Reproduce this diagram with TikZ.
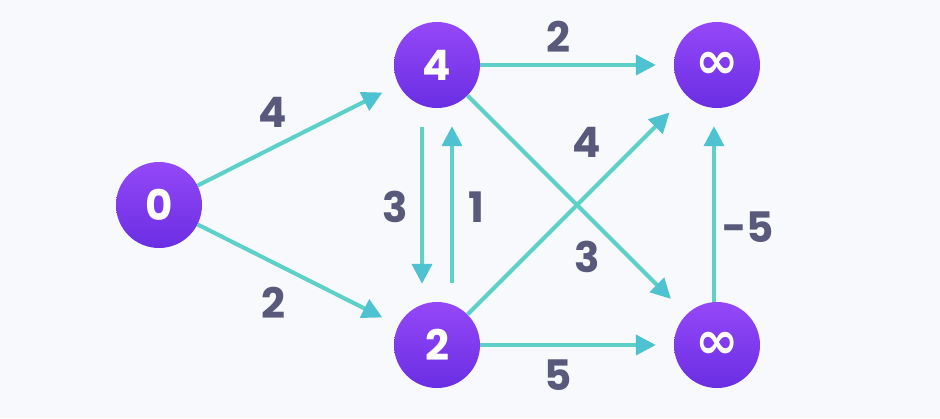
\documentclass[tikz,border=0pt]{standalone}
\usepackage{fontspec}
\setmainfont{Poppins}
\newfontfamily\symfont{DejaVu Sans}
\usepackage{tikz}
\usetikzlibrary{positioning,arrows.meta,calc}

\definecolor{bgc}{HTML}{F7F9FC}
\definecolor{edgec}{HTML}{5DD0C8}
\definecolor{tipc}{HTML}{4FC2D2}
\definecolor{vtop}{HTML}{9448F8}
\definecolor{vbot}{HTML}{6A2EE2}
\definecolor{wc}{HTML}{59597C}

\begin{document}
\begin{tikzpicture}[
    x=1pt, y=-1pt,
    vertex/.style ={circle, minimum size=86pt, inner sep=0pt, top color=vtop, bottom color=vbot,
                    text=white, font=\fontsize{42}{46}\selectfont\bfseries},
    infvertex/.style={vertex, font=\symfont\fontsize{52}{56}\selectfont\bfseries},
    weight/.style ={text=wc, font=\fontsize{42}{46}\selectfont\bfseries, inner sep=0pt},
    edge/.style   ={line width=4pt, edgec, shorten >=18pt,
                    -{Triangle[length=20pt, width=20pt, color=tipc]}}
]

% --- canvas ---
\fill[bgc] (0,0) rectangle (940,418);
\useasboundingbox (0,0) rectangle (940,418);

% --- vertices ---
\node[vertex]    (s)  at (159, 205) {0};
\node[vertex]    (a)  at (437,  65) {4};
\node[vertex]    (b)  at (437, 345) {2};
\node[infvertex] (c)  at (717,  65) {∞};
\node[infvertex] (d)  at (717, 345) {∞};

% --- edges ---
\draw[edge] (s) -- (a);
\draw[edge] (s) -- (b);
\draw[edge] (a) -- (c);
\draw[edge] (b) -- (d);
\draw[edge, shorten >=22pt] (a) -- (d);
\draw[edge, shorten >=24pt] (b) -- (c);
\draw[edge, shorten <=19pt] ([xshift=-15pt]a.south) -- ([xshift=-15pt]b.north);
\draw[edge, shorten <=19pt] ([xshift=15pt]b.north) -- ([xshift=15pt]a.south);
\draw[edge] ([xshift=-3pt]d.north) -- ([xshift=-3pt]c.south);

% --- weights ---
\node[weight] (wsa) at (273, 112) {4};
\node[weight] (wsb) at (273, 303) {2};
\node[weight] (wac) at (558,  37) {2};
\node[weight] (wbd) at (558, 375) {5};
\node[weight] (wbc) at (587, 142) {4};
\node[weight] (wad) at (587, 257) {3};
\node[weight] (wab) at (395, 207) {3};
\node[weight] (wba) at (476, 207) {1};
\node[weight] (wdc) at (748, 227) {-5};

\end{tikzpicture}
\end{document}
